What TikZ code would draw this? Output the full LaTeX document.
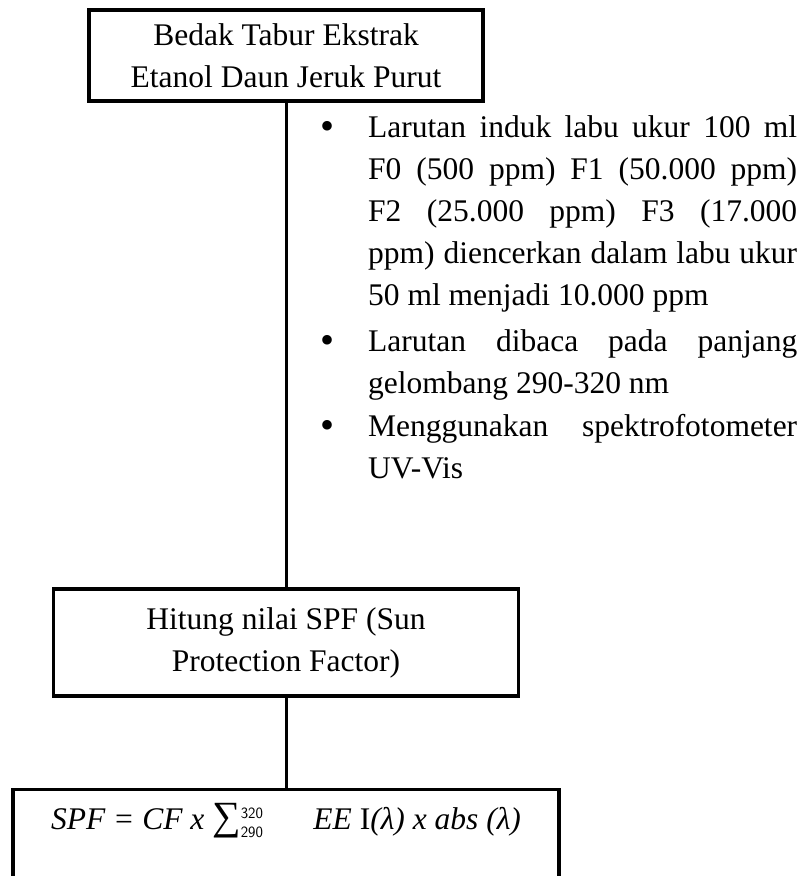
\RequirePackage{fix-cm}
\documentclass[tikz,border=0pt]{standalone}
\usepackage{fontspec}
\setmainfont{Liberation Serif}

\tikzset{
  bigtext/.style={font=\fontsize{31.5}{42}\selectfont},
  flowbox/.style={bigtext, draw, line width=3.2pt, inner sep=0pt, align=center},
  formulabox/.style={bigtext, draw, line width=3.2pt, inner xsep=0pt, inner ysep=0pt},
  link/.style={line width=3pt},
  bodytext/.style={bigtext, inner sep=0pt, anchor=base west}
}
% bullet hung to the left of a justified note
\newcommand{\notebullet}{\leavevmode\llap{\raisebox{-2.5pt}{\fontsize{40}{42}\selectfont\textbullet}\hspace{34pt}}}

\begin{document}
\begin{tikzpicture}[x=1pt,y=-1pt]
  \useasboundingbox (0,0) rectangle (806,876);
  \clip (0,0) rectangle (806,876);

  % process boxes
  \node[flowbox, minimum width=394pt, minimum height=91pt] (start) at (286,55.5)
    {Bedak Tabur Ekstrak\\Etanol Daun Jeruk Purut};
  \node[flowbox, minimum width=465pt, minimum height=107pt] (calc) at (286,642.5)
    {Hitung nilai SPF (Sun\\Protection Factor)};
  \node[formulabox, anchor=north, minimum width=546pt, text height=40pt, text depth=80pt] (formula) at (286,788)
    {{\itshape SPF = CF x }{\fontsize{40}{42}\selectfont ∑}${}^{\scriptscriptstyle\mathsf{320}}_{\scriptscriptstyle\mathsf{290}}$\hspace{50pt}{\itshape EE} I{\itshape (λ) x abs (λ)}};

  % procedure notes beside the trunk line
  \node[bodytext] (note1) at (368,137) {\parbox[t]{429pt}{\notebullet Larutan induk labu ukur 100 ml\linebreak
    F0 (500 ppm) F1 (50.000 ppm)\linebreak
    F2 (25.000 ppm) F3 (17.000\linebreak
    ppm) diencerkan dalam labu ukur\linebreak
    50 ml menjadi 10.000 ppm}};
  \node[bodytext] (note2) at (368,351) {\parbox[t]{429pt}{\notebullet Larutan dibaca pada panjang\linebreak
    gelombang 290-320 nm}};
  \node[bodytext] (note3) at (368,436) {\parbox[t]{429pt}{\notebullet Menggunakan spektrofotometer\linebreak
    UV-Vis}};

  % connectors
  \draw[link] (start.south) -- (calc.north);
  \draw[link] (calc.south) -- (formula.north);
\end{tikzpicture}
\end{document}
